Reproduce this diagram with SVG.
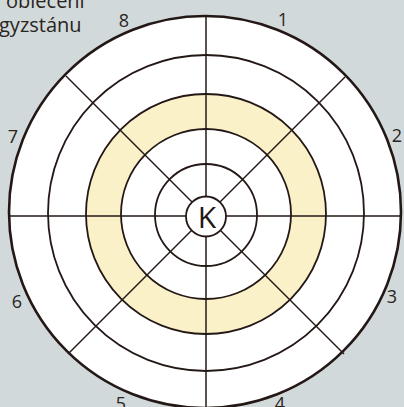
<svg xmlns="http://www.w3.org/2000/svg" width="404" height="407" viewBox="0 0 404 407">
<style>
.ring{fill:none;stroke:#231815;stroke-width:1.8}
.outer{fill:#ffffff;stroke:#231815;stroke-width:2.6}
.spoke{stroke:#231815;stroke-width:1.5}
.lbl{font-family:"Open Sans","Noto Sans",sans-serif;font-size:18px;fill:#2a2420;text-anchor:middle}
.cap{font-family:"Open Sans","Noto Sans",sans-serif;font-size:20px;fill:#2a2420}
</style>
<rect width="404" height="407" fill="#d2d9db"/>
<g id="caption">
<text class="cap" x="6" y="8">oblečení</text>
<text class="cap" x="-1" y="32">gyzstánu</text>
</g>
<g id="target">
<circle class="outer" cx="205" cy="212" r="196"/>
<circle cx="206" cy="214" r="102.5" fill="none" stroke="#fbf1c9" stroke-width="35"/>
<circle class="ring" cx="206" cy="213" r="158"/>
<circle class="ring" cx="206" cy="214" r="120"/>
<circle class="ring" cx="206" cy="214" r="85"/>
<circle class="ring" cx="206" cy="215" r="51"/>
</g>
<g id="connectors">
<line class="spoke" x1="206" y1="196" x2="206" y2="16"/>
<line class="spoke" x1="206" y1="236" x2="206" y2="408"/>
<line class="spoke" x1="186" y1="216" x2="9" y2="216"/>
<line class="spoke" x1="226" y1="216" x2="400" y2="216"/>
<line class="spoke" x1="220" y1="202" x2="345" y2="77"/>
<line class="spoke" x1="192" y1="202" x2="66" y2="76"/>
<line class="spoke" x1="192" y1="230" x2="68" y2="354"/>
<line class="spoke" x1="220" y1="230" x2="344" y2="354"/>
</g>
<g id="node-K">
<circle cx="206" cy="216.5" r="20" fill="#ffffff" stroke="#231815" stroke-width="1.8"/>
<text x="207" y="228" font-family="'Open Sans','Noto Sans',sans-serif" font-size="30" fill="#231815" text-anchor="middle">K</text>
</g>
<g id="labels">
<text class="lbl" x="283" y="26">1</text>
<text class="lbl" x="397" y="142">2</text>
<text class="lbl" x="392" y="303">3</text>
<text class="lbl" x="280" y="410">4</text>
<text class="lbl" x="121" y="410">5</text>
<text class="lbl" x="17" y="308">6</text>
<text class="lbl" x="13" y="143">7</text>
<text class="lbl" x="124" y="27">8</text>
</g>
</svg>
